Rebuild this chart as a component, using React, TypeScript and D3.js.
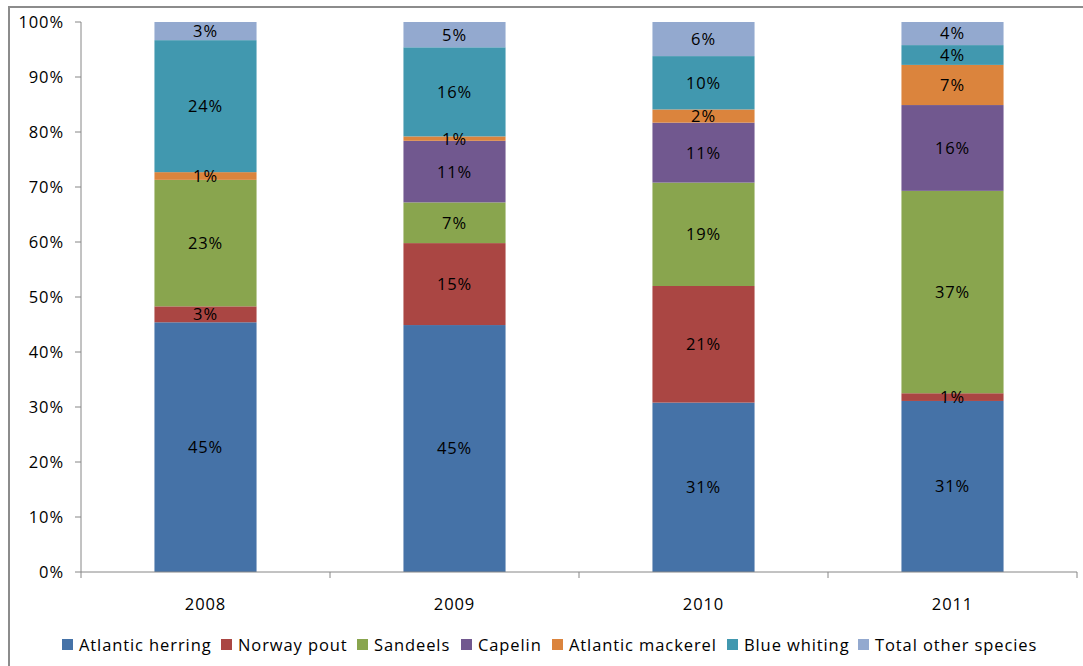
import React from "react";
import * as d3 from "d3";

const years = ["2008", "2009", "2010", "2011"];
const species = [
  "Atlantic herring",
  "Norway pout",
  "Sandeels",
  "Capelin",
  "Atlantic mackerel",
  "Blue whiting",
  "Total other species",
];
const colors = ["#4572A7", "#AA4643", "#89A54E", "#71588F", "#DB843D", "#4198AF", "#93A9CF"];

const atlanticHerring = [45.4, 44.9, 30.8, 31.1];
const norwayPout = [2.9, 14.9, 21.2, 1.4];
const sandeels = [23.0, 7.4, 18.8, 36.8];
const capelin = [0, 11.2, 10.9, 15.6];
const atlanticMackerel = [1.4, 0.8, 2.4, 7.3];
const blueWhiting = [24.0, 16.2, 9.7, 3.6];
const otherSpecies = [3.3, 4.6, 6.2, 4.2];

const yTicks = [0, 10, 20, 30, 40, 50, 60, 70, 80, 90, 100];

const seriesValues = [atlanticHerring, norwayPout, sandeels, capelin, atlanticMackerel, blueWhiting, otherSpecies];

const FONT = "'Open Sans', Lato, sans-serif";

export default function App() {
  const W = 1083, H = 666;
  const left = 81, right = 1077, top = 22, bottom = 572;

  const rows = years.map((y, i) => {
    const r: any = { year: y };
    species.forEach((s, k) => (r[s] = seriesValues[k][i]));
    return r;
  });
  const stack = d3.stack<any>().keys(species).offset(d3.stackOffsetExpand)(rows);

  const x = d3.scaleBand().domain(years).range([left, right]).paddingInner(0.59).paddingOuter(0.295);
  const y = d3.scaleLinear().domain([0, 1]).range([bottom, top]);
  const yPct = d3.scaleLinear().domain([0, 100]).range([bottom, top]);
  const step = (right - left) / years.length;

  const legendX = [62, 221, 357, 461, 552, 727, 858];
  const fs = 16.5;
  const ls = 0.9;

  return (
    <svg width={W} height={H} style={{ position: "absolute", left: 0, top: 0, background: "#fff" }} fontFamily={FONT}>
      <rect x={9} y={7} width={1100} height={700} fill="#fff" stroke="#8c8c8c" strokeWidth={2} />
      {stack.map((layer, k) => (
        <g key={species[k]}>
          {layer.map((d, i) => {
            const y0 = y(d[0]), y1 = y(d[1]);
            const h = y0 - y1;
            if (seriesValues[k][i] <= 0) return null;
            return <rect key={i} x={x(years[i])!} y={y1} width={x.bandwidth()} height={h} fill={colors[k]} />;
          })}
        </g>
      ))}
      {stack.map((layer, k) => (
        <g key={"l" + species[k]}>
          {layer.map((d, i) => {
            if (seriesValues[k][i] <= 0) return null;
            const cy = (y(d[0]) + y(d[1])) / 2;
            return (
              <text key={i} x={x(years[i])! + x.bandwidth() / 2} y={cy} dy="0.36em" textAnchor="middle" fontSize={fs} letterSpacing={ls} fill="#000">
                {Math.round((d[1] - d[0]) * 100)}%
              </text>
            );
          })}
        </g>
      ))}
      {/* y axis */}
      <line x1={left} x2={left} y1={top} y2={bottom} stroke="#868686" strokeWidth={1} />
      {yTicks.map((t) => (
        <g key={t}>
          <line x1={left - 6} x2={left} y1={yPct(t)} y2={yPct(t)} stroke="#868686" />
          <text x={64} y={yPct(t)} dy="0.36em" textAnchor="end" fontSize={fs} letterSpacing={ls} fill="#000">{t}%</text>
        </g>
      ))}
      {/* x axis */}
      <line x1={left} x2={right} y1={bottom} y2={bottom} stroke="#868686" />
      {d3.range(years.length + 1).map((i) => (
        <line key={i} x1={left + i * step} x2={left + i * step} y1={bottom} y2={bottom + 6} stroke="#868686" />
      ))}
      {years.map((yr) => (
        <text key={yr} x={x(yr)! + x.bandwidth() / 2} y={604} dy="0.36em" textAnchor="middle" fontSize={fs} letterSpacing={ls} fill="#000">{yr}</text>
      ))}
      {/* legend */}
      {species.map((s, k) => (
        <g key={s} transform={`translate(${legendX[k]},645)`}>
          <rect x={0} y={-6} width={11} height={11} fill={colors[k]} />
          <text x={17} y={0} dy="0.36em" fontSize={fs} letterSpacing={ls} fill="#000">{s}</text>
        </g>
      ))}
    </svg>
  );
}
